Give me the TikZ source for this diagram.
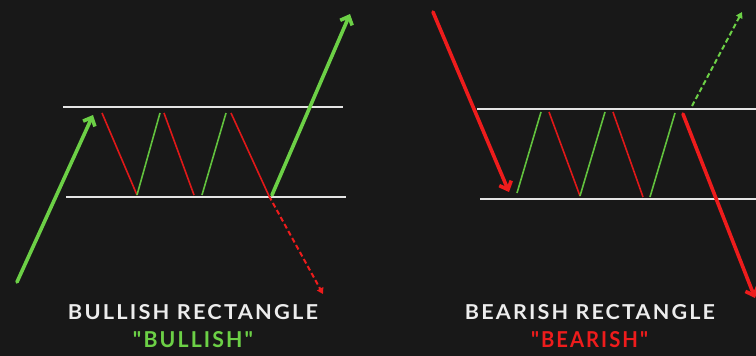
\documentclass[tikz,border=0pt]{standalone}
\usepackage{fontspec}
\usepackage{graphicx}
\setmainfont{Lato}
\newfontfamily\lblfont{Lato}[LetterSpace=10.0, Ligatures=NoCommon]
\usetikzlibrary{arrows.meta}
\definecolor{bg}{HTML}{181818}
\definecolor{bull}{HTML}{6CD046}
\definecolor{bullthin}{HTML}{62C23E}
\definecolor{bear}{HTML}{EE1C1C}
\definecolor{bearthin}{HTML}{E01818}
\definecolor{level}{HTML}{E4E4E4}
\definecolor{lbl}{HTML}{EDEDED}
\tikzset{
  levelline/.style={level, line width=2pt},
  bigup/.style={bull, line width=3.6pt, line cap=round, -{Straight Barb[length=7pt,width=13pt,line width=3.6pt]}},
  bigdown/.style={bear, line width=3.6pt, line cap=round, -{Straight Barb[length=7pt,width=13pt,line width=3.6pt]}},
  upleg/.style={bullthin, line width=1.6pt},
  downleg/.style={bearthin, line width=1.6pt},
  dashup/.style={bull, line width=2pt, dash pattern=on 5pt off 3pt, -{Triangle[length=6pt,width=7pt]}},
  dashdown/.style={bear, line width=2pt, dash pattern=on 5pt off 3pt, -{Triangle[length=6pt,width=7pt]}},
  title/.style={inner sep=0pt, anchor=base, text=lbl, font=\lblfont\bfseries},
  sub/.style={inner sep=0pt, anchor=base, font=\lblfont\bfseries}
}
\begin{document}
\begin{tikzpicture}[x=1pt,y=-1pt]
\fill[bg] (0,0) rectangle (756,356);
\useasboundingbox (0,0) rectangle (756,356);
\clip (0,0) rectangle (756,356);
% ---------- left panel: bullish rectangle ----------
\coordinate (LT1) at (63,107);  \coordinate (LT2) at (343,107);
\coordinate (LB1) at (66,197);  \coordinate (LB2) at (346,197);
\draw[levelline] (LT1) -- (LT2);
\draw[levelline] (LB1) -- (LB2);
\coordinate (a0) at (17,282);  \coordinate (a1) at (93,115);
\draw[bigup] (a0) -- (a1);
\coordinate (p1) at (102,113); \coordinate (q1) at (137,195);
\coordinate (p2) at (160,113); \coordinate (p3) at (164,113);
\coordinate (q2) at (194,195); \coordinate (q3) at (202,195);
\coordinate (p4) at (226,113); \coordinate (p5) at (231,113);
\coordinate (q4) at (269,196);
\draw[downleg] (p1) -- (q1);
\draw[upleg] (q1) -- (p2);
\draw[downleg] (p3) -- (q2);
\draw[upleg] (q3) -- (p4);
\draw[downleg] (p5) -- (q4);
\coordinate (d1) at (323,294);
\draw[dashdown] (q4) -- (d1);
\coordinate (b0) at (272,195); \coordinate (b1) at (350,14);
\draw[bigup] (b0) -- (b1);
% ---------- right panel: bearish rectangle ----------
\coordinate (RT1) at (477,109);  \coordinate (RT2) at (760,109);
\coordinate (RB1) at (480,199);  \coordinate (RB2) at (760,199);
\draw[levelline] (RT1) -- (RT2);
\draw[levelline] (RB1) -- (RB2);
\coordinate (c0) at (433,12); \coordinate (c1) at (509,192);
\draw[bigdown] (c0) -- (c1);
\coordinate (r1) at (517,193); \coordinate (s1) at (541,112);
\coordinate (s2) at (549,112); \coordinate (r2) at (580,196);
\coordinate (s3) at (605,112); \coordinate (s4) at (613,112);
\coordinate (r3) at (643,197); \coordinate (r4) at (650,197);
\coordinate (s5) at (675,113);
\draw[upleg] (r1) -- (s1);
\draw[downleg] (s2) -- (r2);
\draw[upleg] (r2) -- (s3);
\draw[downleg] (s4) -- (r3);
\draw[upleg] (r4) -- (s5);
\coordinate (g0) at (692,106); \coordinate (g1) at (742,12);
\draw[dashup] (g0) -- (g1);
\coordinate (e0) at (683,114); \coordinate (e1) at (755,298);
\draw[bigdown] (e0) -- (e1);
% ---------- labels ----------
\node[title] (t1) at (193,319) {\resizebox{250pt}{15pt}{BULLISH RECTANGLE}};
\node[sub, text=bull] (u1) at (193,347) {\resizebox{120pt}{16pt}{\symbol{34}BULLISH\symbol{34}}};
\node[title] (t2) at (590,319) {\resizebox{250pt}{15pt}{BEARISH RECTANGLE}};
\node[sub, text=bear] (u2) at (589.5,347) {\resizebox{117pt}{16pt}{\symbol{34}BEARISH\symbol{34}}};
\end{tikzpicture}
\end{document}
